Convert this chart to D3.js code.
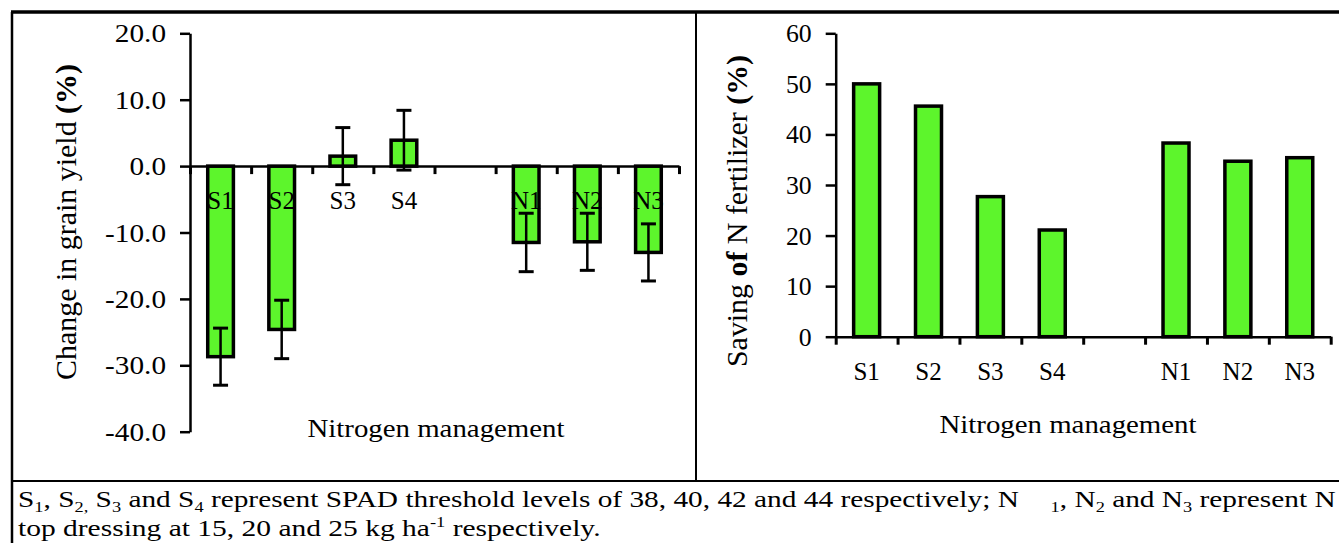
<!DOCTYPE html>
<html>
<head>
<meta charset="utf-8">
<script src="https://cdn.jsdelivr.net/npm/d3@7"></script>
<style>
  html, body { margin: 0; padding: 0; background: #fff; }
</style>
</head>
<body>
<div id="canvas"></div>
<script>
// x slots: the blank one separates the SPAD group from the fixed-N group
const slots = ["S1", "S2", "S3", "S4", "", "N1", "N2", "N3"];
const categories = ["S1", "S2", "S3", "S4", "N1", "N2", "N3"];
// change in grain yield (%) and its error
const yieldChange = [-28.7, -24.6, 1.5, 3.9, -11.5, -11.4, -13.0];
const yieldError = [4.3, 4.4, 4.3, 4.5, 4.4, 4.3, 4.3];
// saving of N fertilizer (%)
const nSaving = [50.0, 45.6, 27.7, 21.1, 38.3, 34.7, 35.4];
const yieldTicks = [-40, -30, -20, -10, 0, 10, 20];
const savingTicks = [0, 10, 20, 30, 40, 50, 60];

const W = 1339, H = 543;
const GREEN = "#5df52c";
const FONT = "'Liberation Serif', 'Times New Roman', serif";

const svg = d3.select("#canvas").append("svg")
    .attr("width", W)
    .attr("height", H)
    .attr("viewBox", "0 0 " + W + " " + H)
    .style("font-family", FONT);

// stretch a text horizontally (the scan is wider than plain Times)
function stretch(sel, k) {
    sel.each(function() {
        let len = this.getComputedTextLength();
        d3.select(this).attr("textLength", len * k).attr("lengthAdjust", "spacingAndGlyphs");
    });
}

function drawPanel(p) {
    let g = svg.append("g");
    let xBand = d3.scaleBand().domain(slots).range([p.x0, p.x1]);
    let xEdge = d3.scaleLinear().domain([0, slots.length]).range([p.x0, p.x1]);
    let y = d3.scaleLinear().domain(p.domain).range([p.yBot, p.yTop]);
    let barW = xBand.bandwidth() * 0.42;

    // bars
    g.selectAll("rect.bar")
        .data(categories)
        .enter().append("rect")
        .attr("class", "bar")
        .attr("x", (d) => xBand(d) + (xBand.bandwidth() - barW) / 2)
        .attr("width", barW)
        .attr("y", (d, i) => y(Math.max(0, p.values[i])))
        .attr("height", (d, i) => Math.abs(y(p.values[i]) - y(0)))
        .attr("fill", GREEN)
        .attr("stroke", "#000")
        .attr("stroke-width", 3.5);

    // error bars
    if (p.errors) {
        let eb = g.selectAll("g.err")
            .data(categories)
            .enter().append("g")
            .attr("class", "err")
            .attr("stroke", "#000");
        let cx = (d) => xBand(d) + xBand.bandwidth() / 2;
        eb.append("line")
            .attr("x1", cx).attr("x2", cx)
            .attr("y1", (d, i) => y(p.values[i] + p.errors[i]))
            .attr("y2", (d, i) => y(p.values[i] - p.errors[i]))
            .attr("stroke-width", 2.5);
        [1, -1].forEach((s) => {
            eb.append("line")
                .attr("x1", (d) => cx(d) - 7.5).attr("x2", (d) => cx(d) + 7.5)
                .attr("y1", (d, i) => y(p.values[i] + s * p.errors[i]))
                .attr("y2", (d, i) => y(p.values[i] + s * p.errors[i]))
                .attr("stroke-width", 3);
        });
    }

    // y axis
    let ya = g.append("g")
        .attr("transform", "translate(" + p.x0 + ",0)")
        .call(d3.axisLeft(y).tickValues(p.ticks).tickSize(10).tickSizeOuter(0).tickPadding(14)
            .tickFormat(p.fmt));
    ya.select(".domain").attr("stroke-width", 2.5);
    ya.selectAll(".tick line").attr("stroke-width", 2.5);
    ya.selectAll("text")
        .style("font-family", FONT)
        .attr("font-size", 25)
        .attr("dy", "0.34em")
        .call(stretch, p.tickStretch);

    // x axis: ticks at the band edges
    let xa = g.append("g")
        .attr("transform", "translate(0," + y(0) + ")")
        .call(d3.axisBottom(xEdge).tickValues(d3.range(slots.length + 1)).tickSize(8)
            .tickSizeOuter(0).tickFormat(""));
    xa.select(".domain").attr("stroke-width", 2.5);
    xa.selectAll(".tick line").attr("stroke-width", 3);

    // category labels
    g.append("g")
        .attr("transform", "translate(0," + p.labelY + ")")
        .call(d3.axisBottom(xBand).tickSize(0).tickPadding(0))
        .call((a) => a.select(".domain").remove())
        .selectAll("text")
        .style("font-family", FONT)
        .attr("font-size", 25)
        .attr("dy", 0)
        .attr("y", 0);

    // x title
    g.append("text")
        .attr("x", p.xTitleX)
        .attr("y", p.xTitleY)
        .attr("text-anchor", "middle")
        .style("font-family", FONT)
        .attr("font-size", 25)
        .attr("textLength", 257)
        .attr("lengthAdjust", "spacingAndGlyphs")
        .text("Nitrogen management");

    // y title
    let yt = g.append("text")
        .attr("transform", "translate(" + p.yTitleX + "," + p.yTitleY + ") rotate(-90)")
        .attr("text-anchor", "middle")
        .style("font-family", FONT)
        .attr("font-size", 30)
        .attr("textLength", p.yTitleLen)
        .attr("lengthAdjust", "spacingAndGlyphs");
    p.yTitle.forEach((part) => {
        yt.append("tspan").attr("font-weight", part[1] ? "bold" : "normal").text(part[0]);
    });
}

drawPanel({
    x0: 190, x1: 679, yTop: 33.3, yBot: 431.7,
    domain: [-40, 20], ticks: yieldTicks, fmt: (d) => d.toFixed(1),
    values: yieldChange, errors: yieldError,
    tickStretch: 1.17, labelY: 209,
    xTitleX: 436, xTitleY: 437,
    yTitleX: 76, yTitleY: 222, yTitleLen: 316,
    yTitle: [["Change in grain yield ", false], ["(%)", true]]
});

drawPanel({
    x0: 835.7, x1: 1330.7, yTop: 33.3, yBot: 336.7,
    domain: [0, 60], ticks: savingTicks, fmt: (d) => String(d),
    values: nSaving, errors: null,
    tickStretch: 1.03, labelY: 380,
    xTitleX: 1068, xTitleY: 433,
    yTitleX: 747, yTitleY: 211, yTitleLen: 312,
    yTitle: [["Saving ", false], ["of", true], [" N fertilizer ", false], ["(%)", true]]
});

// frame
let frame = svg.append("g").attr("stroke", "#000");
frame.append("line").attr("x1", 11).attr("x2", W).attr("y1", 12).attr("y2", 12).attr("stroke-width", 3.5);
frame.append("line").attr("x1", 12).attr("x2", 12).attr("y1", 12).attr("y2", H).attr("stroke-width", 2.5);
frame.append("line").attr("x1", 696).attr("x2", 696).attr("y1", 12).attr("y2", 481).attr("stroke-width", 2);
frame.append("line").attr("x1", 12).attr("x2", W).attr("y1", 481).attr("y2", 481).attr("stroke-width", 2);

// caption with sub/superscripts
const captionLine1 = [
    ["S"], ["1", "sub"], [", S"], ["2,", "sub"], [" S"], ["3", "sub"], [" and S"], ["4", "sub"],
    [" represent SPAD threshold levels of 38, 40, 42 and 44 respectively; N"], ["1", "sub", 26],
    [", N"], ["2", "sub"], [" and N"], ["3", "sub"], [" represent N"]
];
const captionLine2 = [
    ["top dressing at 15, 20 and 25 kg ha"], ["-1", "sup"], [" respectively."]
];

function caption(parts) {
    let gg = svg.append("g");
    let t = gg.append("text").attr("x", 0).attr("y", 0)
        .style("font-family", FONT).attr("font-size", 24);
    let shift = 0;
    parts.forEach((pt) => {
        let target = pt[1] === "sub" ? 5 : pt[1] === "sup" ? -9 : 0;
        let ts = t.append("tspan")
            .attr("dy", target - shift)
            .attr("font-size", pt[1] ? 15 : 24)
            .text(pt[0]);
        if (pt[2]) ts.attr("dx", pt[2]);
        shift = target;
    });
    return gg;
}

function fit(gg, x, yb, width) {
    let sx = width / gg.node().getBBox().width;
    gg.attr("transform", "translate(" + x + "," + yb + ") scale(" + sx + ",1)");
}

fit(caption(captionLine1), 18, 507, 1318);
fit(caption(captionLine2), 18, 536, 583);
</script>
</body>
</html>
